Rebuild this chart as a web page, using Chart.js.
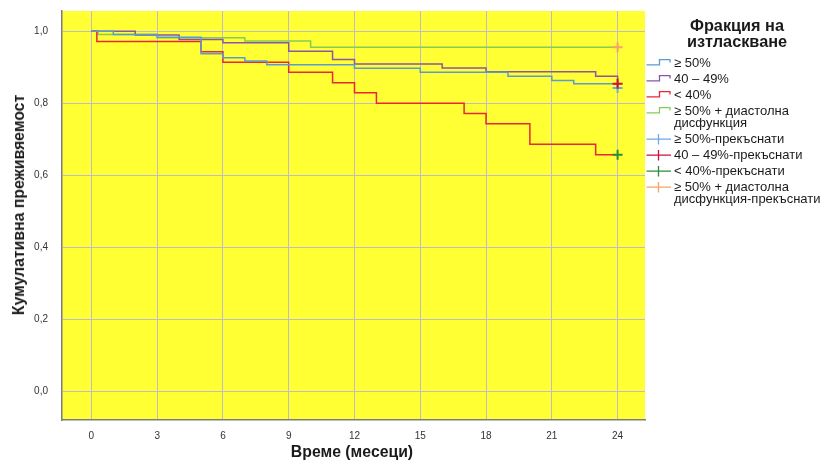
<!DOCTYPE html>
<html>
<head>
<meta charset="utf-8">
<script src="https://cdn.jsdelivr.net/npm/chart.js@4.4.1/dist/chart.umd.min.js"></script>
<style>
  html, body { margin: 0; padding: 0; background: #ffffff; }
  #wrap { position: relative; width: 823px; height: 460px; overflow: hidden;
          font-family: "Liberation Sans", Arial, sans-serif; color: #1a1a1a; }
  #chart { position: absolute; left: 0; top: 0; }
  .axis-title { position: absolute; font-weight: bold; font-size: 15.8px; white-space: nowrap; }
  #ytitle { left: 19px; top: 205px; transform: translate(-50%, -50%) rotate(-90deg); }
  #xtitle { left: 352px; top: 452px; transform: translate(-50%, -50%); }
  #legend { position: absolute; left: 646px; top: 17px; width: 177px; }
  #legend .lg-title { font-weight: bold; font-size: 16.3px; line-height: 16px; text-align: center;
                      width: 182px; margin-bottom: 7.8px; white-space: pre; }
  #legend .lg-item { position: relative; padding-left: 28px; font-size: 13px; line-height: 12.4px;
                     white-space: pre; margin-bottom: 3.5px; }
  #legend svg { position: absolute; left: 0; top: 0; }
</style>
</head>
<body>
<div id="wrap">
  <canvas id="chart" width="823" height="460"></canvas>
  <div id="ytitle" class="axis-title">Кумулативна преживяемост</div>
  <div id="xtitle" class="axis-title">Време (месеци)</div>
  <div id="legend"></div>
</div>
<script>
// Axis ticks
const monthTicks = [0, 3, 6, 9, 12, 15, 18, 21, 24];
const survivalTicks = [0, 0.2, 0.4, 0.6, 0.8, 1.0];
const survivalTickLabels = ['0,0', '0,2', '0,4', '0,6', '0,8', '1,0'];

// Kaplan–Meier estimates per ejection-fraction group (month of event, survival after it)
const ef50Months     = [0, 1, 3, 5, 6, 7, 8, 12, 15, 19, 21, 22, 24];
const ef50Survival   = [1, 0.991, 0.983, 0.937, 0.926, 0.917, 0.907, 0.897, 0.886, 0.875, 0.863, 0.854, 0.842];

const ef4049Months   = [0, 2, 4, 6, 9, 11, 12, 16, 18, 23, 24];
const ef4049Survival = [1, 0.989, 0.977, 0.968, 0.944, 0.921, 0.909, 0.898, 0.887, 0.875, 0.854];

const efLow40Months   = [0, 0.25, 5, 6, 9, 11, 12, 13, 17, 18, 20, 23, 24];
const efLow40Survival = [1, 0.971, 0.943, 0.914, 0.886, 0.857, 0.829, 0.800, 0.771, 0.743, 0.686, 0.657, 0.657];

const efDiastMonths   = [0, 0.3, 3, 7, 10, 24];
const efDiastSurvival = [1, 0.991, 0.982, 0.973, 0.955, 0.955];

// Censoring time (end of follow-up) for each group
const censorMonth = 24;

const groupLabels  = ['≥ 50%', '40 – 49%', '< 40%', '≥ 50% + диастолна\nдисфункция'];
const censorLabels = ['≥ 50%-прекъснати', '40 – 49%-прекъснати', '< 40%-прекъснати',
                      '≥ 50% + диастолна\nдисфункция-прекъснати'];
const groupColors  = ['#5b9bd5', '#8a56a8', '#e8283a', '#88cc55'];
const censorColors = ['#6aaae6', '#d0103c', '#2a8c3c', '#f7a26a'];

const groups = [
  [ef50Months, ef50Survival],
  [ef4049Months, ef4049Survival],
  [efLow40Months, efLow40Survival],
  [efDiastMonths, efDiastSurvival]
];

const lineSets = groups.map(([m, s], i) => ({
  label: groupLabels[i],
  data: m.map((t, k) => ({ x: t, y: s[k] })),
  borderColor: groupColors[i],
  borderWidth: 1.5,
  stepped: 'before',
  pointRadius: 0,
  fill: false,
  order: 10 + i
}));

const censorSets = groups.map(([m, s], i) => ({
  label: censorLabels[i],
  data: [{ x: censorMonth, y: s[s.length - 1] }],
  showLine: false,
  pointStyle: 'cross',
  pointRadius: 5,
  pointBorderWidth: 2,
  borderColor: censorColors[i],
  backgroundColor: censorColors[i],
  order: 4 - i
}));

const plotBackground = {
  id: 'plotBackground',
  beforeDraw(chart) {
    const { ctx, chartArea: a } = chart;
    ctx.save();
    ctx.fillStyle = '#ffff33';
    ctx.fillRect(a.left, a.top, a.right - a.left, a.bottom - a.top);
    ctx.restore();
  }
};

Chart.defaults.font.family = '"Liberation Sans", Arial, sans-serif';

new Chart(document.getElementById('chart'), {
  type: 'line',
  data: { datasets: [...lineSets, ...censorSets] },
  options: {
    responsive: false,
    animation: false,
    devicePixelRatio: 1,
    layout: { padding: { left: 0, top: 11, right: 178, bottom: 0 } },
    plugins: { legend: { display: false }, tooltip: { enabled: false } },
    scales: {
      x: {
        type: 'linear',
        min: -1.34,
        max: 25.25,
        afterBuildTicks: s => { s.ticks = monthTicks.map(v => ({ value: v })); },
        afterFit: s => { s.height = 40; },
        ticks: { color: '#333', font: { size: 10 }, padding: 10, callback: v => String(v) },
        grid: { color: '#bdbdc8', lineWidth: 1, drawTicks: false },
        border: { display: true, color: '#7c7c7c', width: 1.5 }
      },
      y: {
        type: 'linear',
        min: -0.08,
        max: 1.056,
        afterBuildTicks: s => { s.ticks = survivalTicks.map(v => ({ value: v })); },
        afterFit: s => { s.width = 62; },
        ticks: { color: '#333', font: { size: 10 }, padding: 5,
                 callback: (v, i) => survivalTickLabels[i] },
        grid: { color: '#bdbdc8', lineWidth: 1, drawTicks: true, tickLength: 9,
                tickColor: 'rgba(0,0,0,0)' },
        border: { display: true, color: '#7c7c7c', width: 1.5 }
      }
    }
  },
  plugins: [plotBackground]
});

// Legend built from the same labels and colours
const legend = document.getElementById('legend');
const head = document.createElement('div');
head.className = 'lg-title';
head.textContent = 'Фракция на\nизтласкване';
legend.appendChild(head);

function addItem(text, color, kind) {
  const row = document.createElement('div');
  row.className = 'lg-item';
  const ns = 'http://www.w3.org/2000/svg';
  const svg = document.createElementNS(ns, 'svg');
  svg.setAttribute('width', '26');
  svg.setAttribute('height', '13');
  const p = document.createElementNS(ns, 'path');
  p.setAttribute('d', kind === 'line' ? 'M0.5 7.8 H13.5 V2.6 H24 V5.6' : 'M0.5 6.2 H25 M12.5 1 V11.5');
  p.setAttribute('fill', 'none');
  p.setAttribute('stroke', color);
  p.setAttribute('stroke-width', '1.3');
  svg.appendChild(p);
  row.appendChild(svg);
  row.appendChild(document.createTextNode(text));
  legend.appendChild(row);
}
groupLabels.forEach((t, i) => addItem(t, groupColors[i], 'line'));
censorLabels.forEach((t, i) => addItem(t, censorColors[i], 'cross'));
</script>
</body>
</html>
